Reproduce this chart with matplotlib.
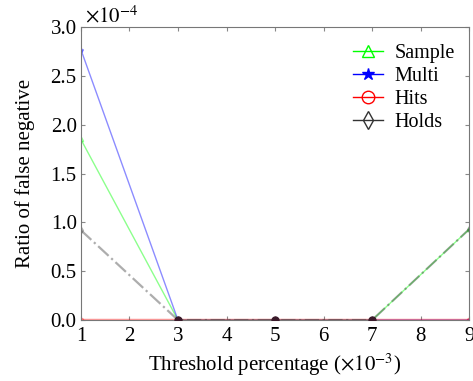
import numpy as np
import matplotlib
matplotlib.use("Agg")
import matplotlib.pyplot as plt

plt.rcParams["font.family"] = ["Liberation Serif", "DejaVu Serif"]
plt.rcParams["mathtext.fontset"] = "stix"

# threshold percentage (x1e-3)
thresholds = [1, 3, 5, 7, 9]
# ratio of false negative (x1e-4)
sample = [1.85, 0.0, 0.0, 0.0, 0.93]
multi = [2.77, 0.0, 0.0, 0.0, 0.0]
hits = [0.0, 0.0, 0.0, 0.0, 0.0]
holds = [0.92, 0.0, 0.0, 0.0, 0.93]

fig = plt.figure(figsize=(4.73, 3.81), dpi=100)
ax = fig.add_axes([0.171, 0.160, 0.821, 0.769])

ax.plot(thresholds, sample, color="#00ff00", marker="^", mfc="none", ms=3,
        lw=1.0, alpha=0.45, label="Sample")
ax.plot(thresholds, multi, color="#0000ff", marker="*", ms=3,
        lw=1.0, alpha=0.45, label="Multi")
ax.plot(thresholds, hits, color="#ff0000", marker="o", mfc="none", ms=3,
        lw=2.5, alpha=0.4, label="Hits")
ax.plot(thresholds, holds, color="#333333", marker="d", mfc="none", ms=3,
        lw=1.6, ls="-.", alpha=0.4, label="Holds")

# dark dots seen where the curves meet the baseline
ax.plot(thresholds[1:4], hits[1:4], ls="none", marker="o", ms=5,
        color="#3a1a2a", zorder=5)

ax.set_xlim(1, 9)
ax.set_ylim(0, 3.0)
ax.set_xticks(range(1, 10))
ax.set_yticks(np.arange(0, 3.01, 0.5))
ax.set_yticklabels([f"{v:.1f}" for v in np.arange(0, 3.01, 0.5)])
ax.tick_params(direction="in", length=3, labelsize=15, top=True, right=True,
               color="#888888")
ax.tick_params(axis="x", pad=5)
ax.tick_params(axis="y", pad=3)
for s in ax.spines.values():
    s.set_color("#777777")

ax.text(0.01, 1.0, r"$\times10^{-4}$", transform=ax.transAxes,
        fontsize=15, ha="left", va="bottom")

ax.set_xlabel(r"Threshold percentage ($\times10^{-3}$)", fontsize=15, labelpad=4)
ax.set_ylabel("Ratio of false negative", fontsize=15, labelpad=11)

leg = ax.legend(loc="upper right", bbox_to_anchor=(0.995, 0.985), frameon=False,
                fontsize=14.5, handlelength=1.5, handletextpad=0.6,
                labelspacing=0.2, borderaxespad=0.2, markerscale=3)
for h in leg.legend_handles:
    h.set_alpha(1.0)
    h.set_linewidth(1.0)
    h.set_linestyle("-")

fig.savefig("out.png", dpi=100)
